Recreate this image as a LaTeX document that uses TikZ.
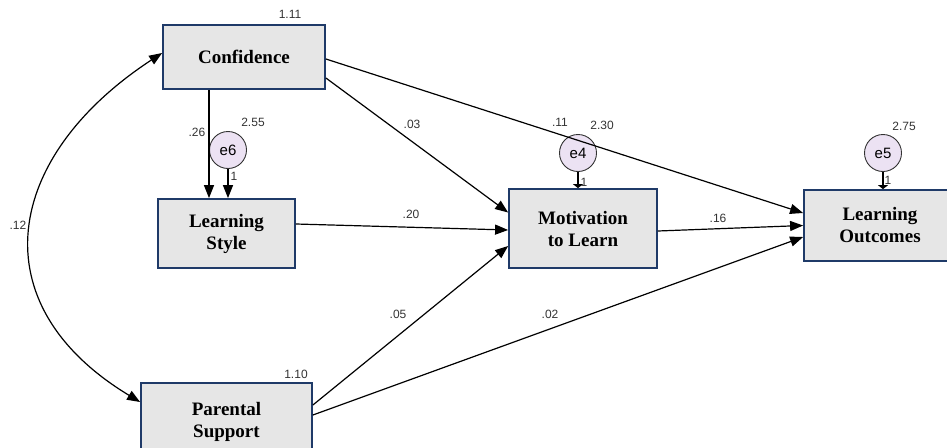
\documentclass[tikz,border=0pt]{standalone}
\usepackage{fontspec}
\setmainfont{Liberation Serif}
\newfontfamily\numfont{Liberation Sans}
\usetikzlibrary{arrows.meta}
\definecolor{boxline}{HTML}{1F3A68}
\definecolor{boxfill}{HTML}{E6E6E6}
\definecolor{errfill}{HTML}{ECE2F3}
\definecolor{numcol}{HTML}{333333}
\begin{document}
\begin{tikzpicture}[x=1pt,y=-1pt,
 var/.style={draw=boxline, line width=1.8pt, fill=boxfill, font=\fontsize{19}{22}\selectfont\bfseries, align=center, inner sep=0pt},
 err/.style={circle, draw=black!80, line width=0.9pt, fill=errfill, minimum size=37pt, inner sep=0pt, font=\numfont\fontsize{15}{16}\selectfont},
 causal/.style={line width=1.2pt, -{Triangle[length=13pt,width=10pt]}},
 errarrow/.style={line width=1.2pt, -{Triangle[length=4pt,width=10pt]}},
 cov/.style={line width=1.2pt, {Triangle[length=13pt,width=10pt]}-{Triangle[length=13pt,width=10pt]}},
 num/.style={font=\numfont\fontsize{12}{13}\selectfont, text=numcol, inner sep=0pt},
]
\useasboundingbox (0,0) rectangle (947,447);

% observed variables
\node[var, minimum width=162pt, minimum height=64pt] (conf) at (244,57) {Confidence};
\node[var, minimum width=137pt, minimum height=69pt] (ls) at (226.5,233.5) {Learning\\Style};
\node[var, minimum width=148pt, minimum height=79pt] (mot) at (583,228.5) {Motivation\\to Learn};
\node[var, minimum width=152pt, minimum height=71pt] (lo) at (880,225.5) {Learning\\Outcomes};
\node[var, minimum width=171pt, minimum height=78pt] (par) at (226.5,422) {Parental\\Support};

% error terms
\node[err] (e6) at (228,150) {e6};
\node[err] (e4) at (578,153) {e4};
\node[err] (e5) at (883,153) {e5};

% paths
\draw[causal] ([xshift=-35pt]conf.south) -- ([xshift=-17.5pt]ls.north);
\draw[causal] (e6.south) -- ([xshift=1.5pt]ls.north);
\draw[causal] ([yshift=-2pt]conf.east) -- ([yshift=12.5pt]lo.west);
\draw[causal] ([yshift=-21pt]conf.east) -- ([yshift=16pt]mot.west);
\draw[causal] ([yshift=9.5pt]ls.east) -- ([yshift=-1.5pt]mot.west);
\draw[causal] ([yshift=-2.5pt]mot.east) -- (lo.west);
\draw[causal] ([yshift=17pt]par.east) -- ([yshift=-17.5pt]mot.west);
\draw[causal] ([yshift=7pt]par.east) -- ([yshift=-11.5pt]lo.west);
\draw[errarrow] (e4.south) -- ([xshift=-5pt]mot.north);
\draw[errarrow] (e5.south) -- ([xshift=3pt]lo.north);

% covariance
\coordinate (cA) at ([yshift=4pt]conf.west);
\coordinate (cB) at ([yshift=20pt]par.west);
\coordinate (c1) at (4,156.5);
\coordinate (c2) at (-22,304);
\draw[cov] (cA) .. controls (c1) and (c2) .. (cB);

% estimates
\node[num] (n1) at (290,14) {1.11};
\node[num] (n2) at (253,122) {2.55};
\node[num] (n3) at (197,132) {.26};
\node[num] (n4) at (412,124) {.03};
\node[num] (n5) at (560,122) {.11};
\node[num] (n6) at (602,125) {2.30};
\node[num] (n7) at (904,126) {2.75};
\node[num] (n8) at (411,214) {.20};
\node[num] (n9) at (718,218) {.16};
\node[num] (n10) at (398,314) {.05};
\node[num] (n11) at (550,314) {.02};
\node[num] (n12) at (18,225) {.12};
\node[num] (n13) at (296,374) {1.10};
\node[num] (n14) at (234,176) {1};
\node[num] (n15) at (584,182) {1};
\node[num] (n16) at (888,180) {1};
\end{tikzpicture}
\end{document}
